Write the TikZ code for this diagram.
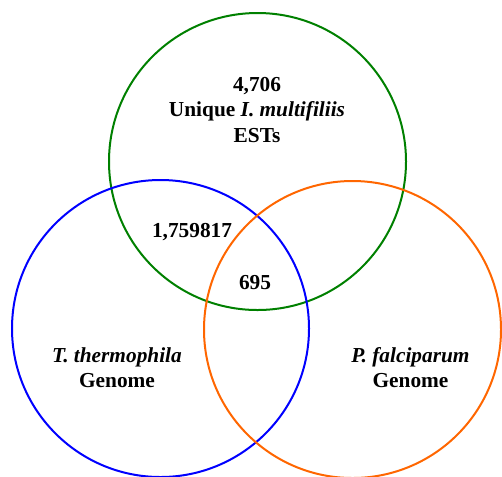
\documentclass[tikz,border=0pt]{standalone}
\usepackage{fontspec}
\setmainfont{Liberation Serif}
\usetikzlibrary{positioning}
\definecolor{setgreen}{RGB}{0,128,0}
\definecolor{setblue}{RGB}{0,0,255}
\definecolor{setorange}{RGB}{255,102,0}
\tikzset{
  set/.style={circle, draw, line width=1.5pt, minimum size=222.75pt, inner sep=0pt},
  lbl/.style={align=center, font=\fontsize{16}{19}\selectfont\bfseries, inner sep=0pt}
}
\begin{document}
\begin{tikzpicture}[x=0.75pt, y=-0.75pt]
         \useasboundingbox (0, 0) rectangle (502, 476);
         \node [set, draw=setgreen] (ICH) at (257.5, 161.5) {}; 
         \node [set, draw=setblue] (TT) at (160.5, 328.5) {}; 
         \node [set, draw=setorange] (PF) at (352.5, 329.5) {}; 
         \node [lbl] (ICHL) at (257, 110) {4,706\\Unique \textit{I. multifiliis}\\ESTs}; 
         \node [lbl] (ICHTT) at (192, 232) {1,759817}; 
         \node [lbl] (ALL) at (255, 283) {695}; 
         \node [lbl] (TTL) at (117, 367.5) {\textit{T. thermophila}\\Genome}; 
         \node [lbl] (PFL) at (410.5, 367.5) {\textit{P. falciparum}\\Genome}; 
\end{tikzpicture}
\end{document}
